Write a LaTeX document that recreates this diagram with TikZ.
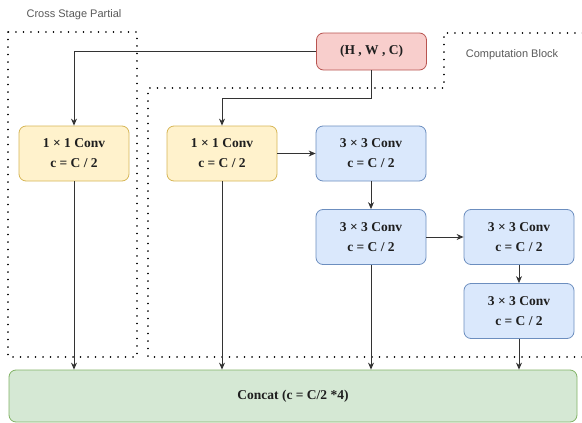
\documentclass[tikz,border=0pt]{standalone}
\usepackage{fontspec}
\setmainfont{Liberation Serif}
\newfontfamily\labelfont{Liberation Sans}
\usetikzlibrary{arrows.meta}
\definecolor{redfill}{HTML}{F8CECC}\definecolor{redline}{HTML}{B85450}
\definecolor{yelfill}{HTML}{FFF2CC}\definecolor{yelline}{HTML}{D6B656}
\definecolor{blufill}{HTML}{DAE8FC}\definecolor{bluline}{HTML}{6C8EBF}
\definecolor{grnfill}{HTML}{D5E8D4}\definecolor{grnline}{HTML}{82B366}
\definecolor{wire}{HTML}{333333}
\tikzset{
  blk/.style={rounded corners=7pt, line width=0.8pt, minimum width=110pt, minimum height=55pt,
    align=center, font=\bfseries\fontsize{13.5}{20}\selectfont, text=black!88, inner sep=0pt},
  inbox/.style={blk, fill=redfill, draw=redline, minimum height=37pt},
  yelbox/.style={blk, fill=yelfill, draw=yelline},
  blubox/.style={blk, fill=blufill, draw=bluline},
  catbox/.style={blk, fill=grnfill, draw=grnline, minimum width=568pt, minimum height=52pt},
  flow/.style={draw=wire, line width=0.9pt, -{Stealth[length=7pt,width=6pt]}},
  region/.style={draw=black, line width=1.6pt, dash pattern=on 0.1pt off 7.4pt, line cap=round},
  tag/.style={font=\labelfont\fontsize{11}{13}\selectfont, text=black!65}
}
\begin{document}
\begin{tikzpicture}[x=1pt,y=-1pt]
\useasboundingbox (0,0) rectangle (582,423);
% dotted regions
\draw[region] (8,32) rectangle (137,357);
\draw[region] (590,33) -- (444,33) -- (444,88) -- (148,88) -- (148,357) -- (590,357);
\node[tag] (csp) at (74,15) {Cross Stage Partial};
\node[tag] (cb) at (512,55) {Computation Block};
% blocks
\node[inbox] (in) at (371.5,51.5) {(H , W , C)};
\node[yelbox] (c1) at (74,153.5) {1 × 1 Conv\\c = C / 2};
\node[yelbox] (c2) at (222,153.5) {1 × 1 Conv\\c = C / 2};
\node[blubox] (c3) at (371,153.5) {3 × 3 Conv\\c = C / 2};
\node[blubox] (c4) at (371,237) {3 × 3 Conv\\c = C / 2};
\node[blubox] (c5) at (519,237) {3 × 3 Conv\\c = C / 2};
\node[blubox] (c6) at (519,311) {3 × 3 Conv\\c = C / 2};
\node[catbox] (cat) at (293,396) {Concat (c = C/2 *4)};
% connectors
\draw[flow] (in.west) -| (c1.north);
\draw[flow] (in.south) |- (222,98) -- (c2.north);
\draw[flow] (c2) -- (c3);
\draw[flow] (c3) -- (c4);
\draw[flow] (c4) -- (c5);
\draw[flow] (c5) -- (c6);
\draw[flow] (c1.south) -- (c1.south |- cat.north);
\draw[flow] (c2.south) -- (c2.south |- cat.north);
\draw[flow] (c4.south) -- (c4.south |- cat.north);
\draw[flow] (c6.south) -- (c6.south |- cat.north);
\end{tikzpicture}
\end{document}
